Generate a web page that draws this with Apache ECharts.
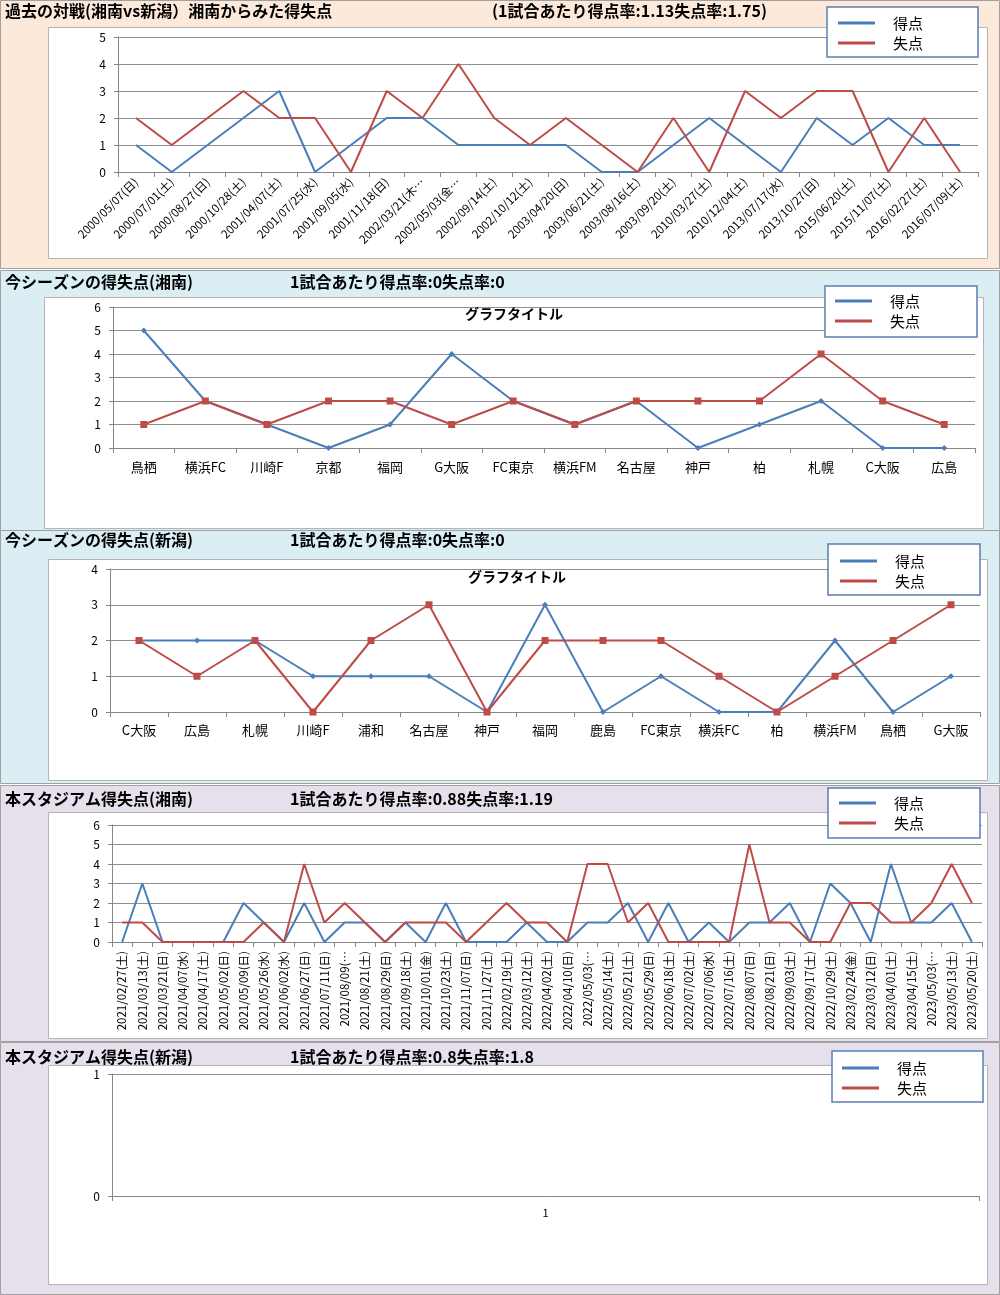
<!DOCTYPE html>
<html><head><meta charset="utf-8">
<script src="https://cdn.jsdelivr.net/npm/echarts@6/dist/echarts.min.js"></script>
<style>html,body{margin:0;padding:0;background:#fff}#c{width:1000px;height:1295px}</style>
</head><body><div id="c"></div>
<script>
// ---------- DATA ----------
const p1Title = '過去の対戦(湘南vs新潟）湘南からみた得失点';
const p1Sub = '(1試合あたり得点率:1.13失点率:1.75)';
const p1Dates = ['2000/05/07(日)','2000/07/01(土)','2000/08/27(日)','2000/10/28(土)','2001/04/07(土)','2001/07/25(水)','2001/09/05(水)','2001/11/18(日)','2002/03/21(木…','2002/05/03(金…','2002/09/14(土)','2002/10/12(土)','2003/04/20(日)','2003/06/21(土)','2003/08/16(土)','2003/09/20(土)','2010/03/27(土)','2010/12/04(土)','2013/07/17(水)','2013/10/27(日)','2015/06/20(土)','2015/11/07(土)','2016/02/27(土)','2016/07/09(土)'];
const p1Scored =   [1,0,1,2,3,0,1,2,2,1,1,1,1,0,0,1,2,1,0,2,1,2,1,1];
const p1Conceded = [2,1,2,3,2,2,0,3,2,4,2,1,2,1,0,2,0,3,2,3,3,0,2,0];
const p1YTicks = [0,1,2,3,4,5];

const p2Title = '今シーズンの得失点(湘南)';
const p2Sub = '1試合あたり得点率:0失点率:0';
const p2Teams = ['鳥栖','横浜FC','川崎F','京都','福岡','G大阪','FC東京','横浜FM','名古屋','神戸','柏','札幌','C大阪','広島'];
const p2Scored =   [5,2,1,0,1,4,2,1,2,0,1,2,0,0];
const p2Conceded = [1,2,1,2,2,1,2,1,2,2,2,4,2,1];
const p2YTicks = [0,1,2,3,4,5,6];

const p3Title = '今シーズンの得失点(新潟)';
const p3Sub = '1試合あたり得点率:0失点率:0';
const p3Teams = ['C大阪','広島','札幌','川崎F','浦和','名古屋','神戸','福岡','鹿島','FC東京','横浜FC','柏','横浜FM','鳥栖','G大阪'];
const p3Scored =   [2,2,2,1,1,1,0,3,0,1,0,0,2,0,1];
const p3Conceded = [2,1,2,0,2,3,0,2,2,2,1,0,1,2,3];
const p3YTicks = [0,1,2,3,4];

const chartTitle = 'グラフタイトル';

const p4Title = '本スタジアム得失点(湘南)';
const p4Sub = '1試合あたり得点率:0.88失点率:1.19';
const p4Dates = ['2021/02/27(土)','2021/03/13(土)','2021/03/21(日)','2021/04/07(水)','2021/04/17(土)','2021/05/02(日)','2021/05/09(日)','2021/05/26(水)','2021/06/02(水)','2021/06/27(日)','2021/07/11(日)','2021/08/09(…','2021/08/21(土)','2021/08/29(日)','2021/09/18(土)','2021/10/01(金)','2021/10/23(土)','2021/11/07(日)','2021/11/27(土)','2022/02/19(土)','2022/03/12(土)','2022/04/02(土)','2022/04/10(日)','2022/05/03(…','2022/05/14(土)','2022/05/21(土)','2022/05/29(日)','2022/06/18(土)','2022/07/02(土)','2022/07/06(水)','2022/07/16(土)','2022/08/07(日)','2022/08/21(日)','2022/09/03(土)','2022/09/17(土)','2022/10/29(土)','2023/02/24(金)','2023/03/12(日)','2023/04/01(土)','2023/04/15(土)','2023/05/03(…','2023/05/13(土)','2023/05/20(土)'];
const p4Scored =   [0,3,0,0,0,0,2,1,0,2,0,1,1,0,1,0,2,0,0,0,1,0,0,1,1,2,0,2,0,1,0,1,1,2,0,3,2,0,4,1,1,2,0];
const p4Conceded = [1,1,0,0,0,0,0,1,0,4,1,2,1,0,1,1,1,0,1,2,1,1,0,4,4,1,2,0,0,0,0,5,1,1,0,0,2,2,1,1,2,4,2];
const p4YTicks = [0,1,2,3,4,5,6];

const p5Title = '本スタジアム得失点(新潟)';
const p5Sub = '1試合あたり得点率:0.8失点率:1.8';
const p5Cats = ['1'];
const p5Scored = [];
const p5Conceded = [];
const p5YTicks = [0,1];

const seriesNames = ['得点','失点'];

// ---------- STYLE ----------
const FONT = '"Noto Sans CJK JP","Noto Sans",sans-serif';
const BLUE = '#4A7EBB', RED = '#BE4B48';
const AX = '#868686', GRIDC = '#8f8f8f';

const grids = [
  {left:118, top:37,   width:860, height:135},
  {left:113, top:307,  width:862, height:141},
  {left:110, top:569,  width:870, height:143},
  {left:112, top:825,  width:870, height:117},
  {left:112, top:1074, width:867, height:122}
];

function xAx(i, data, lab){
  return {type:'category', gridIndex:i, data:data, boundaryGap:true,
    axisLine:{lineStyle:{color:AX}},
    axisTick:{show:true, length:5, interval:0, lineStyle:{color:AX}},
    splitLine:{show:false},
    axisLabel:Object.assign({interval:0, color:'#000', fontFamily:FONT, fontSize:12}, lab||{})};
}
function yAx(i, ticks){
  return {type:'value', gridIndex:i, min:ticks[0], max:ticks[ticks.length-1], interval:1,
    axisLine:{show:true, lineStyle:{color:AX}},
    axisTick:{show:true, length:4, lineStyle:{color:AX}},
    splitLine:{show:true, lineStyle:{color:GRIDC, width:1}},
    axisLabel:{color:'#000', fontFamily:FONT, fontSize:12, margin:12}};
}
function ser(i, name, data, color, marker){
  const s = {name:name, type:'line', xAxisIndex:i, yAxisIndex:i, data:data,
    lineStyle:{color:color, width:2}, itemStyle:{color:color}, z:3,
    symbol:'none', showSymbol:false, silent:true, animation:false};
  if (marker){ s.symbol = marker.sym; s.symbolSize = marker.size; s.showSymbol = true; }
  return s;
}
function leg(left, top){
  return {data:seriesNames, orient:'vertical', left:left, top:top, padding:0, itemGap:2,
    icon:'rect', itemWidth:37, itemHeight:3, z:60, selectedMode:false,
    textStyle:{fontFamily:FONT, fontSize:15, color:'#000', lineHeight:18, padding:[0,0,0,13]}};
}
function bg(x,y,w,h,fill,stroke){
  return {type:'rect', shape:{x:x,y:y,width:w,height:h}, z:-20, silent:true,
    style:{fill:fill, stroke:stroke, lineWidth:1}};
}
function box(x,y,w,h){
  return {type:'rect', shape:{x:x,y:y,width:w,height:h}, z:-10, silent:true,
    style:{fill:'#fff', stroke:'#b4b4b4', lineWidth:1}};
}
function legBox(x,y,w,h){
  return {type:'rect', shape:{x:x,y:y,width:w,height:h}, z:50, silent:true,
    style:{fill:'#fff', stroke:'#5a7fb3', lineWidth:1.5}};
}
function txt(x,y,t,size,align){
  return {type:'text', x:x, y:y, z:55, silent:true,
    style:{text:t, fill:'#000', font:'bold '+size+'px '+FONT, align:align||'left', verticalAlign:'middle'}};
}

const chart = echarts.init(document.getElementById('c'), null, {renderer:'canvas'});
chart.setOption({
  animation:false,
  backgroundColor:'#fff',
  grid:grids,
  xAxis:[
    xAx(0, p1Dates, {rotate:45, fontSize:11.5, margin:8}),
    xAx(1, p2Teams, {fontSize:13, margin:13}),
    xAx(2, p3Teams, {fontSize:13, margin:12}),
    xAx(3, p4Dates, {rotate:90, fontSize:11.5, margin:9}),
    xAx(4, p5Cats, {fontSize:11, margin:11})
  ],
  yAxis:[yAx(0,p1YTicks), yAx(1,p2YTicks), yAx(2,p3YTicks), yAx(3,p4YTicks), yAx(4,p5YTicks)],
  legend:[leg(838,14), leg(835,292), leg(840,552), leg(839,794), leg(842,1059)],
  series:[
    ser(0,'得点',p1Scored,BLUE), ser(0,'失点',p1Conceded,RED),
    ser(1,'得点',p2Scored,BLUE,{sym:'diamond',size:6}), ser(1,'失点',p2Conceded,RED,{sym:'rect',size:7}),
    ser(2,'得点',p3Scored,BLUE,{sym:'diamond',size:6}), ser(2,'失点',p3Conceded,RED,{sym:'rect',size:7}),
    ser(3,'得点',p4Scored,BLUE), ser(3,'失点',p4Conceded,RED),
    ser(4,'得点',p5Scored,BLUE), ser(4,'失点',p5Conceded,RED)
  ],
  graphic:[
    bg(0.5,0.5,999,268,'#FDE9D9','#a0a0a0'),
    bg(0.5,270.5,999,260,'#DAEEF3','#a0a0a0'),
    bg(0.5,530.5,999,253,'#DAEEF3','#a0a0a0'),
    bg(0.5,785.5,999,256,'#E5E0EC','#a0a0a0'),
    bg(0.5,1042.5,999,252,'#E5E0EC','#a0a0a0'),
    box(48.5,27.5,939,231),
    box(44.5,297.5,939,231),
    box(48.5,559.5,939,221),
    box(48.5,812.5,939,226),
    box(48.5,1065.5,939,219),
    legBox(827,7,151,50),
    legBox(825,286,152,51),
    legBox(828,544,152,51),
    legBox(828,788,152,50),
    legBox(832,1051,151,51),
    txt(5,11,p1Title,16), txt(492,11,p1Sub,16),
    txt(5,282,p2Title,16), txt(290,282,p2Sub,16),
    txt(5,540,p3Title,16), txt(290,540,p3Sub,16),
    txt(5,799,p4Title,16), txt(290,799,p4Sub,16),
    txt(5,1057,p5Title,16), txt(290,1057,p5Sub,16),
    txt(514,314,chartTitle,14,'center'),
    txt(517,577,chartTitle,14,'center')
  ]
});
</script>
</body></html>
